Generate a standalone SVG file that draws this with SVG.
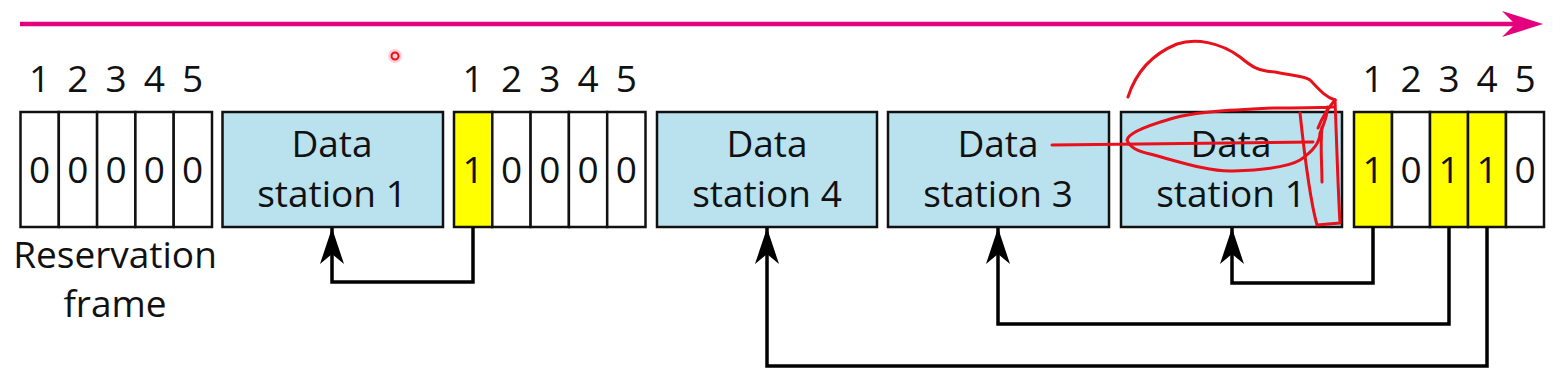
<svg xmlns="http://www.w3.org/2000/svg" width="1566" height="382" viewBox="0 0 1566 382">
<style>
.t{font-family:"Open Sans","Liberation Sans",sans-serif;font-size:37px;fill:#111;text-anchor:middle}
.cell{fill:#fff;stroke:#111;stroke-width:2.5}
.on{fill:#ffff00}
.data{fill:#b9e2ee;stroke:#111;stroke-width:2.5}
.conn{fill:none;stroke:#000;stroke-width:3.5}
.scr{fill:none;stroke:#e8101a;stroke-width:3;stroke-linecap:round;stroke-linejoin:round}
</style>
<defs>
<marker id="ah" viewBox="-38 -13 40 26" refX="0" refY="0" markerWidth="40" markerHeight="26" markerUnits="userSpaceOnUse" orient="auto">
<path d="M0,0 L-36,-12 L-26,0 L-36,12 Z" fill="#000"/>
</marker>
</defs>
<rect width="1566" height="382" fill="#fff"/>
<g id="timeline">
<line x1="20" y1="24" x2="1516" y2="24" stroke="#e4007c" stroke-width="4.5"/>
<path d="M1543,24 L1502,11 L1515,24 L1502,37 Z" fill="#e4007c"/>
</g>
<g id="frame1">
<rect class="cell" x="20.5" y="112" width="38.3" height="115"/>
<rect class="cell" x="58.8" y="112" width="38.3" height="115"/>
<rect class="cell" x="97.1" y="112" width="38.3" height="115"/>
<rect class="cell" x="135.4" y="112" width="38.3" height="115"/>
<rect class="cell" x="173.7" y="112" width="38.3" height="115"/>
<text class="t" y="92"><tspan x="39.5">1</tspan><tspan x="77.8">2</tspan><tspan x="116.1">3</tspan><tspan x="154.4">4</tspan><tspan x="192.7">5</tspan></text>
<text class="t" y="183"><tspan x="39.5">0</tspan><tspan x="77.8">0</tspan><tspan x="116.1">0</tspan><tspan x="154.4">0</tspan><tspan x="192.7">0</tspan></text>
<text class="t" x="115" y="268">Reservation</text>
<text class="t" x="115" y="317">frame</text>
</g>
<g id="data1a">
<rect class="data" x="222.5" y="112" width="220.5" height="115"/>
<text class="t" x="332" y="157">Data</text>
<text class="t" x="332" y="207">station 1</text>
</g>
<g id="frame2">
<rect class="cell on" x="454" y="112" width="38.3" height="115"/>
<rect class="cell" x="492.3" y="112" width="38.3" height="115"/>
<rect class="cell" x="530.6" y="112" width="38.3" height="115"/>
<rect class="cell" x="568.9" y="112" width="38.3" height="115"/>
<rect class="cell" x="607.2" y="112" width="38.3" height="115"/>
<text class="t" y="92"><tspan x="473.2">1</tspan><tspan x="511.5">2</tspan><tspan x="549.8">3</tspan><tspan x="588.1">4</tspan><tspan x="626.4">5</tspan></text>
<text class="t" y="183"><tspan x="473.2">1</tspan><tspan x="511.5">0</tspan><tspan x="549.8">0</tspan><tspan x="588.1">0</tspan><tspan x="626.4">0</tspan></text>
</g>
<g id="data4">
<rect class="data" x="657" y="112" width="220" height="115"/>
<text class="t" x="767" y="157">Data</text>
<text class="t" x="767" y="207">station 4</text>
</g>
<g id="data3">
<rect class="data" x="888" y="112" width="221" height="115"/>
<text class="t" x="998" y="157">Data</text>
<text class="t" x="998" y="207">station 3</text>
</g>
<g id="data1b">
<rect class="data" x="1121" y="112" width="221" height="115"/>
<text class="t" x="1231" y="157">Data</text>
<text class="t" x="1231" y="207">station 1</text>
</g>
<g id="frame3">
<rect class="cell on" x="1354" y="112" width="38" height="115"/>
<rect class="cell" x="1392" y="112" width="38" height="115"/>
<rect class="cell on" x="1430" y="112" width="38" height="115"/>
<rect class="cell on" x="1468" y="112" width="38" height="115"/>
<rect class="cell" x="1506" y="112" width="38" height="115"/>
<text class="t" y="92"><tspan x="1373">1</tspan><tspan x="1411">2</tspan><tspan x="1449">3</tspan><tspan x="1487">4</tspan><tspan x="1525">5</tspan></text>
<text class="t" y="183"><tspan x="1373">1</tspan><tspan x="1411">0</tspan><tspan x="1449">1</tspan><tspan x="1487">1</tspan><tspan x="1525">0</tspan></text>
</g>
<g id="connectors">
<path class="conn" d="M473,227 V282 H332 V228" marker-end="url(#ah)"/>
<path class="conn" d="M1373,227 V283 H1232 V228" marker-end="url(#ah)"/>
<path class="conn" d="M1449,227 V324 H998 V228" marker-end="url(#ah)"/>
<path class="conn" d="M1487,227 V366 H767 V228" marker-end="url(#ah)"/>
</g>
<g id="annotation">
<circle cx="395" cy="56" r="7" fill="#ff4060" opacity="0.25"/>
<circle cx="395" cy="56" r="3.5" fill="none" stroke="#e8101a" stroke-width="2"/>
<path class="scr" d="M1128,97 C1135,75 1150,55 1177,44 C1195,38 1220,42 1240,57 C1252,67 1258,71 1275,72 C1295,76 1305,76 1310,80 C1318,88 1325,97 1335,100"/>
<path class="scr" d="M1335,100 C1337,150 1338,190 1340,223 L1317,225 C1310,200 1305,160 1300,113"/>
<path class="scr" d="M1333,107 C1310,108 1290,108 1273,108 C1230,110 1190,112 1167,120 C1140,128 1128,135 1127,140 C1130,148 1140,152 1150,154 C1180,162 1210,172 1233,171 C1265,170 1290,166 1300,160 C1315,150 1320,140 1320,133 C1325,122 1328,112 1327,107"/>
<path class="scr" d="M1052,145 L1313,142"/>
<path class="scr" d="M1322,127 C1320,145 1322,165 1322,182"/>
<path class="scr" d="M1335,100 C1328,108 1322,118 1318,128"/>
</g>
</svg>
